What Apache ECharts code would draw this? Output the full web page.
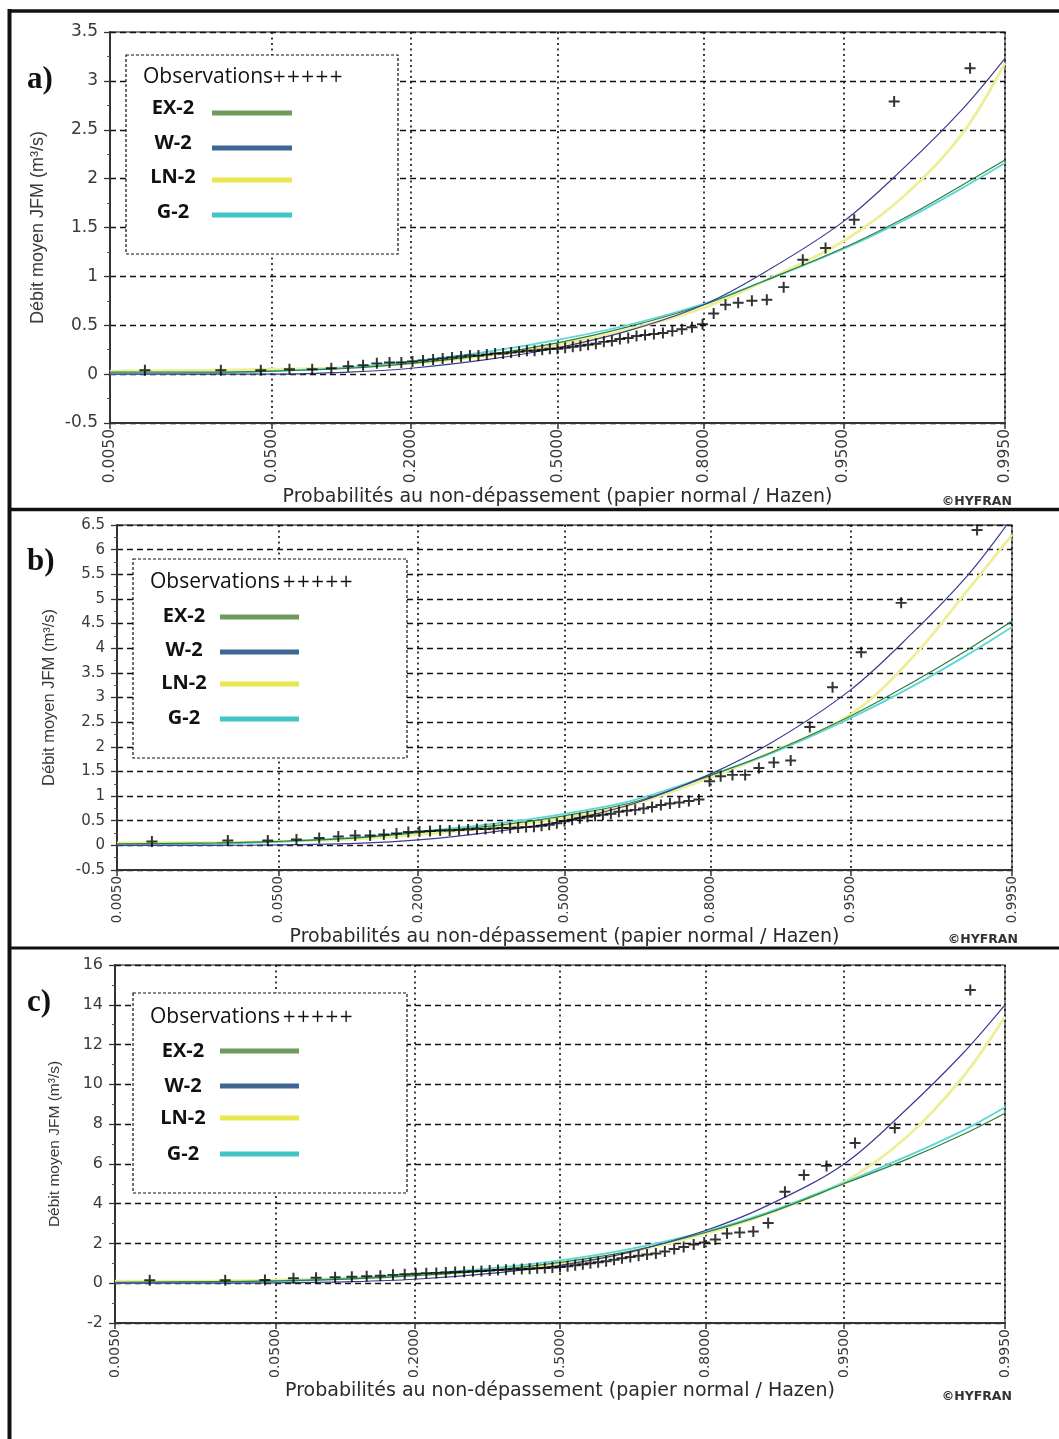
<!DOCTYPE html>
<html><head><meta charset="utf-8">
<script src="https://cdn.jsdelivr.net/npm/echarts@6/dist/echarts.min.js"></script>
<style>html,body{margin:0;padding:0;background:#fff}#c{width:1059px;height:1439px}</style>
</head><body><div id="c"></div>
<script>
// ---------- DATA ----------
const tickLabels = ['0.0050','0.0500','0.2000','0.5000','0.8000','0.9500','0.9950'];
const tickZ = [-2.576,-1.645,-0.842,0,0.842,1.645,2.576];           // normal variate of tick probabilities
const seriesNames = ['EX-2','W-2','LN-2','G-2'];
const curveZ = [-2.576,-2.0,-1.645,-1.2,-0.842,-0.4,0,0.4,0.842,1.2,1.645,2.0,2.326,2.576];
const obsZ = [-2.375,-1.938,-1.708,-1.543,-1.412,-1.302,-1.205,-1.119,-1.040,-0.967,-0.899,-0.835,-0.774,-0.716,-0.661,-0.607,-0.555,-0.504,-0.455,-0.407,-0.359,-0.313,-0.267,-0.221,-0.176,-0.132,-0.088,-0.044,0,0.044,0.088,0.132,0.176,0.221,0.267,0.313,0.359,0.407,0.455,0.504,0.555,0.607,0.661,0.716,0.774,0.835,0.899,0.967,1.040,1.119,1.205,1.302,1.412,1.543,1.708,1.938,2.375];

// panel a
const obsA = [0.04,0.04,0.04,0.05,0.05,0.06,0.08,0.09,0.11,0.12,0.12,0.13,0.14,0.15,0.16,0.17,0.18,0.19,0.19,0.20,0.21,0.21,0.22,0.23,0.24,0.24,0.25,0.26,0.26,0.27,0.28,0.29,0.30,0.31,0.33,0.34,0.36,0.37,0.39,0.40,0.41,0.42,0.44,0.46,0.48,0.51,0.62,0.71,0.73,0.75,0.76,0.89,1.17,1.29,1.58,2.79,3.13];
const exA = [0.02,0.02,0.03,0.06,0.11,0.20,0.32,0.48,0.71,0.96,1.29,1.60,1.93,2.19];
const wA  = [0.00,0.00,0.00,0.02,0.06,0.15,0.27,0.44,0.71,1.05,1.56,2.12,2.70,3.23];
const lnA = [0.03,0.04,0.05,0.07,0.11,0.19,0.30,0.45,0.68,0.96,1.36,1.83,2.45,3.18];
const gA  = [0.00,0.01,0.03,0.07,0.13,0.23,0.35,0.50,0.72,0.96,1.28,1.58,1.90,2.16];

// panel b
const obsB = [0.08,0.10,0.10,0.12,0.15,0.18,0.20,0.20,0.22,0.24,0.27,0.28,0.29,0.30,0.30,0.31,0.32,0.33,0.33,0.34,0.35,0.35,0.36,0.37,0.38,0.40,0.42,0.45,0.49,0.52,0.55,0.58,0.60,0.62,0.64,0.68,0.70,0.72,0.75,0.78,0.82,0.85,0.87,0.90,0.93,1.30,1.40,1.43,1.43,1.57,1.68,1.72,2.40,3.21,3.92,4.92,6.40];
const exB = [0.03,0.05,0.08,0.15,0.26,0.40,0.60,0.88,1.42,1.90,2.62,3.30,3.98,4.55];
const wB  = [0.00,0.00,0.01,0.04,0.11,0.28,0.50,0.85,1.45,2.10,3.15,4.30,5.50,6.65];
const lnB = [0.05,0.06,0.08,0.13,0.22,0.37,0.56,0.84,1.38,1.90,2.65,3.80,5.20,6.30];
const gB  = [0.00,0.03,0.07,0.16,0.28,0.44,0.64,0.92,1.43,1.88,2.58,3.22,3.88,4.43];

// panel c
const obsC = [0.15,0.15,0.16,0.25,0.28,0.30,0.32,0.35,0.38,0.42,0.45,0.48,0.50,0.52,0.54,0.56,0.58,0.60,0.62,0.64,0.66,0.68,0.70,0.72,0.73,0.75,0.77,0.79,0.82,0.85,0.90,0.95,1.00,1.05,1.10,1.18,1.25,1.32,1.38,1.44,1.50,1.60,1.72,1.82,1.95,2.05,2.20,2.50,2.55,2.60,3.03,4.60,5.44,5.90,7.05,7.80,14.74];
const exC = [0.05,0.08,0.12,0.22,0.38,0.65,1.05,1.60,2.55,3.50,5.00,6.20,7.45,8.55];
const wC  = [0.00,0.00,0.02,0.08,0.20,0.50,0.90,1.55,2.65,3.90,6.00,8.70,11.50,14.00];
const lnC = [0.10,0.12,0.15,0.25,0.40,0.65,1.00,1.55,2.50,3.50,5.10,7.30,10.30,13.40];
const gC  = [0.00,0.05,0.10,0.25,0.45,0.75,1.15,1.72,2.60,3.55,5.05,6.35,7.65,8.85];

// ---------- LAYOUT / STYLE ----------
const panels = [
  {letter:'a)', data:{obs:obsA, ex:exA, w:wA, ln:lnA, g:gA}, yMin:-0.5, yMax:3.5, yInt:0.5,
   grid:{left:110, top:32, width:895, height:391}, yLab:17, xLab:15.5, yName:18, yNameGap:63, xNameGap:59,
   letterPos:[27,80], legend:{x:126,y:55,w:272,h:199, obsX:143, obsY:77, plusX:272, labX:173, labY:[108,143,177,212], lineX:[212,292], lineY:[113,148,180,215]},
   hyfran:[1012,502]},
  {letter:'b)', data:{obs:obsB, ex:exB, w:wB, ln:lnB, g:gB}, yMin:-0.5, yMax:6.5, yInt:0.5,
   grid:{left:117, top:525, width:895, height:345}, yLab:15, xLab:13.5, yName:16.5, yNameGap:59, xNameGap:53,
   letterPos:[27,562], legend:{x:133,y:559,w:274,h:199, obsX:150, obsY:582, plusX:282, labX:184, labY:[616,650,683,718], lineX:[220,299], lineY:[617,652,684,719]},
   hyfran:[1018,940]},
  {letter:'c)', data:{obs:obsC, ex:exC, w:wC, ln:lnC, g:gC}, yMin:-2, yMax:16, yInt:2,
   grid:{left:115, top:965, width:890, height:358}, yLab:16, xLab:14, yName:15.5, yNameGap:52, xNameGap:56,
   letterPos:[27,1003], legend:{x:133,y:993,w:274,h:200, obsX:150, obsY:1017, plusX:282, labX:183, labY:[1051,1086,1118,1154], lineX:[220,299], lineY:[1051,1086,1118,1154]},
   hyfran:[1012,1397]}
];
const plotColors = {ex:'#2f7d3a', w:'#3b3b90', ln:'#eeee98', g:'#5cd6d6'};
const legendColors = ['#6e9a5c','#3e6893','#e8e84e','#40c6c6'];
const plusPath = 'path://M4.1,0H5.9V4.1H10V5.9H5.9V10H4.1V5.9H0V4.1H4.1Z';

function zip(xs, ys){ return xs.map((x,i)=>[x, ys[i]]); }
function xLabel(v){ let b=0; tickZ.forEach((t,i)=>{ if(Math.abs(t-v)<Math.abs(tickZ[b]-v)) b=i; }); return tickLabels[b]; }

const grids=[], xAxes=[], yAxes=[], series=[], graphics=[];
panels.forEach((p,i)=>{
  grids.push(Object.assign({show:true, borderColor:'#5a5a5a', borderWidth:1.5, backgroundColor:'transparent'}, p.grid));
  xAxes.push({type:'value', gridIndex:i, min:-2.576, max:2.576,
    name:'Probabilités au non-dépassement (papier normal / Hazen)', nameLocation:'middle', nameGap:p.xNameGap,
    nameTextStyle:{fontFamily:'DejaVu Sans', fontSize:19, color:'#2a2a2a'},
    axisLine:{show:true, onZero:false, lineStyle:{color:'#333', width:2}},
    axisTick:{show:true, customValues:tickZ, length:6, lineStyle:{color:'#333', width:1.5}},
    axisLabel:{show:true, customValues:tickZ, rotate:90, margin:6, fontFamily:'DejaVu Sans', fontSize:p.xLab, color:'#3a3a3a', formatter:xLabel},
    splitLine:{show:true, lineStyle:{type:[2,3.5], color:'#111', width:1.6}}
  });
  yAxes.push({type:'value', gridIndex:i, min:p.yMin, max:p.yMax, interval:p.yInt,
    name:'Débit moyen JFM (m³/s)', nameLocation:'middle', nameGap:p.yNameGap,
    nameTextStyle:{fontFamily:'Liberation Sans', fontSize:p.yName, color:'#3a3a3a'},
    axisLine:{show:true, onZero:false, lineStyle:{color:'#333', width:2}},
    axisTick:{show:true, length:6, lineStyle:{color:'#333', width:1.3}},
    minorTick:{show:true, splitNumber:2, length:3, lineStyle:{color:'#555', width:1}},
    axisLabel:{fontFamily:'DejaVu Sans', fontSize:p.yLab, color:'#3a3a3a', margin:12},
    splitLine:{show:true, lineStyle:{type:[6,4], color:'#111', width:1.4}}
  });
  const d = p.data;
  const common = {type:'line', xAxisIndex:i, yAxisIndex:i, smooth:0.35, showSymbol:false, silent:true, animation:false};
  series.push(Object.assign({name:'LN-2', data:zip(curveZ,d.ln), lineStyle:{color:plotColors.ln, width:2.8}, z:2}, common));
  series.push(Object.assign({name:'G-2', data:zip(curveZ,d.g), lineStyle:{color:plotColors.g, width:1.8}, z:3}, common));
  series.push(Object.assign({name:'EX-2', data:zip(curveZ,d.ex), lineStyle:{color:plotColors.ex, width:1.2}, z:4}, common));
  series.push(Object.assign({name:'W-2', data:zip(curveZ,d.w), lineStyle:{color:plotColors.w, width:1.2}, z:5}, common));
  series.push({type:'scatter', name:'Observations', xAxisIndex:i, yAxisIndex:i, data:zip(obsZ,d.obs),
    symbol:plusPath, symbolSize:11, itemStyle:{color:'#000'}, silent:true, animation:false, z:6});

  // legend box
  const L = p.legend;
  graphics.push({type:'rect', shape:{x:L.x, y:L.y, width:L.w, height:L.h}, style:{fill:'#fff', stroke:'#111', lineWidth:1.2, lineDash:[3,2]}, z:10});
  graphics.push({type:'text', x:L.obsX, y:L.obsY, style:{text:'Observations', fontFamily:'Open Sans', fontSize:21, fill:'#111', verticalAlign:'middle', align:'left'}, z:11});
  graphics.push({type:'text', x:L.plusX, y:L.obsY + 1, style:{text:'+++++', fontFamily:'DejaVu Sans', fontSize:17, fill:'#111', verticalAlign:'middle', align:'left'}, z:11});
  seriesNames.forEach((n,k)=>{
    graphics.push({type:'text', x:L.labX, y:L.labY[k], style:{text:n, fontFamily:'Open Sans', fontWeight:'bold', fontSize:20, fill:'#111', verticalAlign:'middle', align:'center'}, z:11});
    graphics.push({type:'line', shape:{x1:L.lineX[0], y1:L.lineY[k], x2:L.lineX[1], y2:L.lineY[k]}, style:{stroke:legendColors[k], lineWidth:5}, z:11});
  });
  graphics.push({type:'text', x:p.letterPos[0], y:p.letterPos[1], style:{text:p.letter, fontFamily:'Liberation Serif', fontWeight:'bold', fontSize:31, fill:'#111', verticalAlign:'middle', align:'left'}, z:11});
  graphics.push({type:'text', x:p.hyfran[0], y:p.hyfran[1], style:{text:'©HYFRAN', fontFamily:'DejaVu Sans', fontWeight:'bold', fontSize:12.5, fill:'#333', verticalAlign:'middle', align:'right'}, z:11});
});
// outer frame
graphics.push({type:'line', shape:{x1:8, y1:11, x2:1059, y2:11}, style:{stroke:'#111', lineWidth:3.5}, z:12});
graphics.push({type:'line', shape:{x1:9.5, y1:9, x2:9.5, y2:1439}, style:{stroke:'#111', lineWidth:4}, z:12});
graphics.push({type:'line', shape:{x1:8, y1:509.5, x2:1059, y2:509.5}, style:{stroke:'#111', lineWidth:3.5}, z:12});
graphics.push({type:'line', shape:{x1:8, y1:948, x2:1059, y2:948}, style:{stroke:'#111', lineWidth:3}, z:12});

const chart = echarts.init(document.getElementById('c'), null, {renderer:'canvas'});
chart.setOption({animation:false, backgroundColor:'#fff', grid:grids, xAxis:xAxes, yAxis:yAxes, series:series, graphic:{elements:graphics}});
</script></body></html>
